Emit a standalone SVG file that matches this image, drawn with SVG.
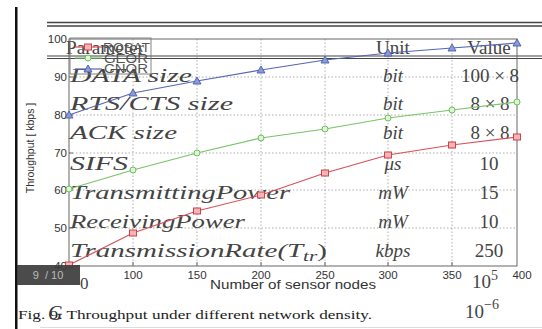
<svg xmlns="http://www.w3.org/2000/svg" width="542" height="329" viewBox="0 0 542 329">
<style>
.tick{font-family:"Liberation Sans",Arial,sans-serif;font-size:11.5px;fill:#333}
.tab{font-family:"Liberation Serif","Times New Roman",serif;font-size:19px;fill:#444}
.it{font-style:italic}
.grid{stroke:#9a9a9a;stroke-width:0.8;stroke-dasharray:1.5,2;fill:none}
.ser{fill:none;stroke-width:1.2}
.leg{font-family:"Liberation Sans",Arial,sans-serif;font-size:12.5px;fill:#555}
</style>
<defs>
<path id="tri" d="M0,-4 L4,3 L-4,3 Z" fill="#8a9ad6" stroke="#4a5cae" stroke-width="0.9"/>
<circle id="cir" r="3" fill="#dff3d6" stroke="#6cbf5a" stroke-width="1"/>
<rect id="sq" x="-3.5" y="-3" width="7" height="6" fill="#f3b5b8" stroke="#d2404a" stroke-width="1"/>
</defs>
<rect width="542" height="329" fill="#ffffff"/>
<rect x="15" y="7" width="2.5" height="322" fill="#111"/>
<line x1="47" y1="22.5" x2="542" y2="22.5" stroke="#444" stroke-width="1.3"/>
<line x1="47" y1="26" x2="542" y2="26" stroke="#444" stroke-width="1.3"/>
<line x1="47" y1="56" x2="542" y2="56" stroke="#444" stroke-width="1.2"/>
<line x1="47" y1="58.5" x2="542" y2="58.5" stroke="#444" stroke-width="1"/>
<g id="grid">
<path class="grid" d="M133,39V266M197,39V266M261,39V266M325,39V266M388,39V266M452,39V266M69,77H517M69,115H517M69,153H517M69,190H517M69,228H517"/>
<rect x="69" y="39" width="448" height="227" fill="none" stroke="#666" stroke-width="1"/>
<path d="M133,266v-4M197,266v-4M261,266v-4M325,266v-4M388,266v-4M452,266v-4M69,77h4M69,115h4M69,153h4M69,190h4M69,228h4" stroke="#666" stroke-width="1"/>
</g>
<g id="ylabels" class="tick" text-anchor="end">
<text x="67" y="43">100</text><text x="67" y="81">90</text><text x="67" y="119">80</text><text x="67" y="157">70</text><text x="67" y="194">60</text><text x="67" y="232">50</text><text x="67" y="270">40</text>
</g>
<g id="xlabels" class="tick" text-anchor="middle">
<text x="133" y="279">100</text><text x="197" y="279">150</text><text x="261" y="279">200</text><text x="325" y="279">250</text><text x="388" y="279">300</text><text x="452" y="279">350</text><text x="522" y="279">400</text>
</g>
<text x="293" y="289" font-family="Liberation Sans,Arial,sans-serif" font-size="12.5" fill="#333" text-anchor="middle" textLength="166" lengthAdjust="spacingAndGlyphs">Number of sensor nodes</text>
<text transform="translate(34,148) rotate(-90)" font-family="Liberation Sans,Arial,sans-serif" font-size="10.5" fill="#333" text-anchor="middle">Throughput [ kbps ]</text>
<g id="table" class="tab">
<text x="66" y="54" textLength="78" lengthAdjust="spacingAndGlyphs">Parameter</text>
<text x="393" y="54" text-anchor="middle">Unit</text>
<text x="489" y="54" text-anchor="middle">Value</text>
<text class="it" x="70" y="82" textLength="122" lengthAdjust="spacingAndGlyphs">DATA size</text>
<text class="it" x="70" y="110" textLength="163" lengthAdjust="spacingAndGlyphs">RTS/CTS size</text>
<text class="it" x="70" y="139" textLength="107" lengthAdjust="spacingAndGlyphs">ACK size</text>
<text class="it" x="70" y="170" textLength="58" lengthAdjust="spacingAndGlyphs">SIFS</text>
<text class="it" x="70" y="199" textLength="220" lengthAdjust="spacingAndGlyphs">TransmittingPower</text>
<text class="it" x="70" y="228" textLength="175" lengthAdjust="spacingAndGlyphs">ReceivingPower</text>
<text class="it" x="70" y="257" textLength="257" lengthAdjust="spacingAndGlyphs">TransmissionRate(T<tspan font-size="14" dy="4">tr</tspan><tspan font-style="normal" dy="-4">)</tspan></text>
<g class="it" text-anchor="middle">
<text x="393" y="82">bit</text><text x="393" y="110">bit</text><text x="393" y="139">bit</text><text x="393" y="170">μs</text><text x="393" y="199">mW</text><text x="393" y="228">mW</text><text x="393" y="257">kbps</text>
</g>
<g text-anchor="middle">
<text x="490" y="82">100 × 8</text><text x="490" y="110">8 × 8</text><text x="490" y="139">8 × 8</text><text x="489" y="170">10</text><text x="489" y="199">15</text><text x="489" y="228">10</text><text x="489" y="257">250</text>
</g>
<text x="472" y="288">10<tspan font-size="14" dy="-8">5</tspan></text>
<text x="465" y="318">10<tspan font-size="14" dy="-9">−6</tspan></text>
<text x="80" y="289" font-size="17">0</text>
</g>
<g id="series">
<polyline class="ser" stroke="#5566b4" points="69,115 133,93 197,81 261,70 325,60 388,53 452,48 517,43"/>
<polyline class="ser" stroke="#78c466" points="69,189 133,170 197,153 261,138 325,129 388,118 452,110 517,102"/>
<polyline class="ser" stroke="#d9505a" points="69,265 133,233 197,211 261,195 325,173 388,155 452,145 517,137"/>
<g><use href="#tri" x="69" y="115"/><use href="#tri" x="133" y="93"/><use href="#tri" x="197" y="81"/><use href="#tri" x="261" y="70"/><use href="#tri" x="325" y="60"/><use href="#tri" x="388" y="53"/><use href="#tri" x="452" y="48"/><use href="#tri" x="517" y="43"/></g>
<g><use href="#cir" x="69" y="189"/><use href="#cir" x="133" y="170"/><use href="#cir" x="197" y="153"/><use href="#cir" x="261" y="138"/><use href="#cir" x="325" y="129"/><use href="#cir" x="388" y="118"/><use href="#cir" x="452" y="110"/><use href="#cir" x="517" y="102"/></g>
<g><use href="#sq" x="69" y="265"/><use href="#sq" x="133" y="233"/><use href="#sq" x="197" y="211"/><use href="#sq" x="261" y="195"/><use href="#sq" x="325" y="173"/><use href="#sq" x="388" y="155"/><use href="#sq" x="452" y="145"/><use href="#sq" x="517" y="137"/></g>
</g>
<g id="legend">
<rect x="70" y="38" width="81" height="36" fill="none" stroke="#777" stroke-width="0.9"/>
<line x1="75" y1="47" x2="102" y2="47" stroke="#d9505a" stroke-width="1.2"/><use href="#sq" x="88" y="47"/>
<line x1="75" y1="58" x2="102" y2="58" stroke="#78c466" stroke-width="1.2"/><use href="#cir" x="88" y="58"/>
<line x1="75" y1="69" x2="102" y2="69" stroke="#5566b4" stroke-width="1.2"/><use href="#tri" x="88" y="69"/>
<text class="leg" x="103" y="51.5" textLength="47" lengthAdjust="spacingAndGlyphs">ROSAT</text>
<text class="leg" x="104" y="62.5" textLength="44" lengthAdjust="spacingAndGlyphs">GEOR</text>
<text class="leg" x="104" y="73" textLength="44" lengthAdjust="spacingAndGlyphs">CNOR</text>
</g>
<g id="badge">
<rect x="17" y="265" width="63" height="20" fill="#3c3c3c" opacity="0.92"/>
<text x="48" y="279" font-family="Liberation Sans,Arial,sans-serif" font-size="11" fill="#bbb" text-anchor="middle" xml:space="preserve">9  / 10</text>
</g>
<text x="18" y="319" font-family="Liberation Serif,Times New Roman,serif" font-size="12.5" fill="#222" textLength="354" lengthAdjust="spacingAndGlyphs">Fig. 9. Throughput under different network density.</text>
<text x="48" y="320" font-family="Liberation Serif,Times New Roman,serif" font-style="italic" font-size="20" fill="#333">G</text>
<line x1="40" y1="327.5" x2="542" y2="327.5" stroke="#ddd" stroke-width="1"/>
</svg>
